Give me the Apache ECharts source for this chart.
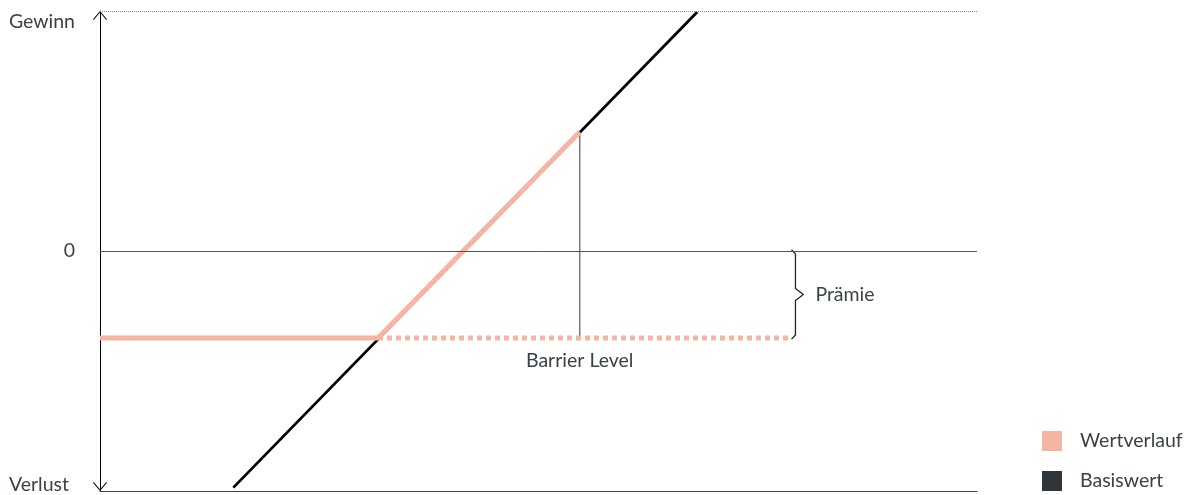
<!DOCTYPE html>
<html>
<head>
<meta charset="utf-8">
<script src="https://cdn.jsdelivr.net/npm/echarts@6/dist/echarts.min.js"></script>
<style>
  html, body { margin: 0; padding: 0; background: #fff; }
  #chart { width: 1195px; height: 495px; }
</style>
</head>
<body>
<div id="chart"></div>
<script>
// Achsen
var yTickValues = [-100, 0, 100];
var yTickLabels = ['Verlust', '0', 'Gewinn'];

// Basiswert (Underlying) – gerade Linie
var underlyingLine = [[15.2, -98.6], [68.1, 99.6]];

// Wertverlauf
var premiumLevel = -36.2;          // Niveau bei Barriere
var kinkX = 31.7;                  // Schnittpunkt mit Basiswert
var capPoint = [54.7, 49.6];       // Barrier Level
var valueLine = [[0, premiumLevel], [kinkX, premiumLevel], capPoint];
var protectionEndX = 78.7;         // Ende gepunktete Linie
var braceX = 79.3;

var pink = '#f6b4a2';
var txt = '#3a4246';
var fs = 19.5;

var braceMid = premiumLevel / 2;
var braceData = [
  [braceX - 0.45, 0.5], [braceX, -1.2], [braceX, braceMid + 2.5],
  [braceX + 0.9, braceMid], [braceX, braceMid - 2.5],
  [braceX, premiumLevel + 1.2], [braceX - 0.45, premiumLevel - 0.5]
];

var chart = echarts.init(document.getElementById('chart'));
chart.setOption({
  animation: false,
  textStyle: { fontFamily: 'Lato', color: txt },
  grid: { left: 100, right: 218, top: 11, bottom: 4 },
  legend: {
    orient: 'vertical',
    left: 1042,
    top: 431,
    padding: 0,
    itemWidth: 20,
    itemHeight: 20,
    itemGap: 20,
    icon: 'rect',
    textStyle: { fontSize: fs, color: txt, padding: [0, 0, 0, 13] },
    data: [
      { name: 'Wertverlauf', itemStyle: { color: pink } },
      { name: 'Basiswert', itemStyle: { color: '#2f3538' } }
    ]
  },
  xAxis: {
    type: 'value', min: 0, max: 100,
    axisLine: { onZero: false, lineStyle: { color: '#444', width: 1.2 } },
    axisTick: { show: false }, axisLabel: { show: false }, splitLine: { show: false }
  },
  yAxis: {
    type: 'value', min: -100, max: 100, interval: 100,
    axisLine: {
      show: true, onZero: false,
      lineStyle: { color: '#000', width: 1 },
      symbol: ['path://M7,0 L14,8.3 L13.3,9 L7,1.5 L0.7,9 L0,8.3 Z', 'path://M7,0 L14,8.3 L13.3,9 L7,1.5 L0.7,9 L0,8.3 Z'],
      symbolSize: [14, 9],
      symbolOffset: [4.5, -4.5]
    },
    axisTick: { show: false },
    splitLine: { show: false },
    axisLabel: {
      margin: 25,
      fontSize: fs,
      color: txt,
      formatter: function (v) {
        var i = yTickValues.indexOf(v);
        if (i < 0) return '';
        if (v > 0) return '{g|' + yTickLabels[i] + '}';
        if (v < 0) return '{v|' + yTickLabels[i] + '}';
        return yTickLabels[i];
      },
      rich: {
        g: { fontSize: fs, color: txt, padding: [22, 0, 0, 0] },
        v: { fontSize: fs, color: txt, padding: [0, 6, 12, 0] }
      }
    }
  },
  series: [
    {
      name: 'Basiswert', type: 'line', data: underlyingLine,
      showSymbol: false, z: 2,
      lineStyle: { color: '#000', width: 2.8 },
      itemStyle: { color: '#000' },
      markLine: {
        silent: true, symbol: 'none', label: { show: false },
        data: [
          { yAxis: 0, lineStyle: { color: '#555', width: 1, type: 'solid' } },
          { yAxis: 100, lineStyle: { color: '#888', width: 1, type: [1, 1] } }
        ]
      }
    },
    {
      name: 'Barrier', type: 'line', z: 1,
      data: [
        { value: capPoint },
        { value: [capPoint[0], premiumLevel], label: { show: true, position: 'bottom', distance: 13, formatter: 'Barrier Level', fontSize: fs, color: txt } }
      ],
      symbol: 'circle', symbolSize: 0.1,
      lineStyle: { color: '#777', width: 1.5 },
      itemStyle: { color: '#777' }
    },
    {
      name: 'Wertverlauf', type: 'line', data: valueLine,
      showSymbol: false, z: 4,
      lineStyle: { color: pink, width: 5 },
      itemStyle: { color: pink }
    },
    {
      name: 'Schutz', type: 'line', z: 3,
      data: [[kinkX, premiumLevel], [protectionEndX, premiumLevel]],
      showSymbol: false,
      lineStyle: { color: pink, width: 5, type: [5, 4] }
    },
    {
      name: 'Prämie', type: 'line', z: 3,
      data: braceData.map(function (p, i) {
        return i === 3
          ? { value: p, label: { show: true, position: 'right', distance: 12, formatter: 'Prämie', fontSize: fs, color: txt } }
          : p;
      }),
      symbol: 'circle', symbolSize: 0.1,
      lineStyle: { color: '#222', width: 1.3 },
      itemStyle: { color: '#222' }
    }
  ]
});
</script>
</body>
</html>
